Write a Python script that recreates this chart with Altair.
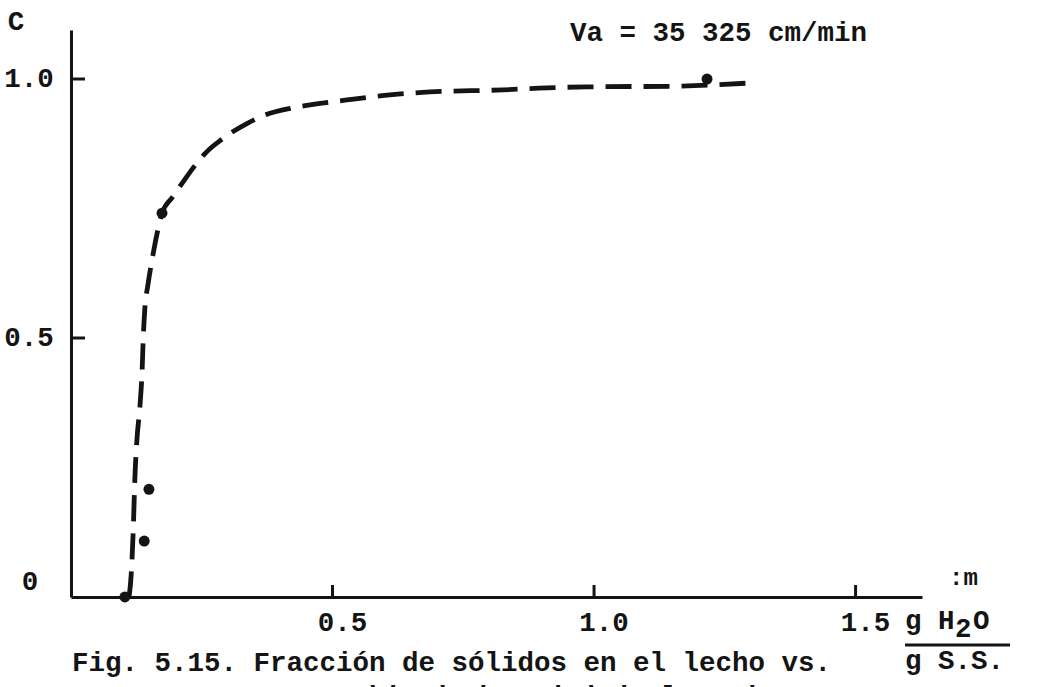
import altair as alt
import pandas as pd

# Dashed trend curve (moisture content vs. solids fraction)
curve_x = [0.111, 0.115, 0.119, 0.122, 0.126, 0.132, 0.136, 0.138, 0.141, 0.147,
           0.155, 0.164, 0.174, 0.194, 0.214, 0.237, 0.258, 0.289, 0.338, 0.367,
           0.423, 0.457, 0.524, 0.604, 0.686, 0.826, 0.910, 1.006, 1.149, 1.293]
curve_y = [0.0, 0.042, 0.129, 0.226, 0.303, 0.371, 0.438, 0.496, 0.554, 0.602,
           0.651, 0.699, 0.741, 0.772, 0.801, 0.833, 0.858, 0.884, 0.915, 0.929,
           0.944, 0.950, 0.959, 0.969, 0.975, 0.979, 0.983, 0.985, 0.986, 0.992]

# Measured points
point_x = [0.103, 0.140, 0.149, 0.174, 1.216]
point_y = [0.0, 0.108, 0.208, 0.741, 1.0]

# Axis ticks and labels
x_ticks = [0.5, 1.0, 1.5]
x_tick_labels = ["0.5", "1.0", "1.5"]
y_ticks = [0.5, 1.0]
y_tick_labels = ["0.5", "1.0"]

title_text = "Va = 35 325 cm/min"
caption_1 = "Fig. 5.15. Fracción de sólidos en el lecho vs."
caption_2 = "contenido de humedad de los mismos."

INK = "#141414"
FONT = "Liberation Mono"
FS = 27.5

x_scale = alt.Scale(domain=[0, 1.627], nice=False, zero=False)
y_scale = alt.Scale(domain=[0, 1.0946], nice=False, zero=False)
x_axis = alt.Axis(labels=False, ticks=False, grid=False, title="",
                  domainWidth=3, domainColor=INK)
y_axis = alt.Axis(labels=False, ticks=False, grid=False, title="",
                  domainWidth=3, domainColor=INK)

curve_df = pd.DataFrame({"x": curve_x, "y": curve_y})
points_df = pd.DataFrame({"x": point_x, "y": point_y})
xt_df = pd.DataFrame({"x": x_ticks, "t": x_tick_labels})
yt_df = pd.DataFrame({"y": y_ticks, "t": y_tick_labels})
zero_df = pd.DataFrame({"y": [0.0], "t": ["0"]})

curve = alt.Chart(curve_df).mark_line(
    color=INK, strokeWidth=4.8, strokeDash=[26, 12], interpolate="monotone",
    strokeCap="butt"
).encode(
    x=alt.X("x:Q", scale=x_scale, axis=x_axis),
    y=alt.Y("y:Q", scale=y_scale, axis=y_axis),
    order="x:Q",
)

points = alt.Chart(points_df).mark_circle(color=INK, opacity=1, size=120).encode(
    x=alt.X("x:Q", scale=x_scale),
    y=alt.Y("y:Q", scale=y_scale),
)

x_tick_marks = alt.Chart(xt_df).mark_rule(color=INK, strokeWidth=3).encode(
    x=alt.X("x:Q", scale=x_scale),
    y=alt.value(567),
    y2=alt.value(555),
)

y_tick_marks = alt.Chart(yt_df).mark_rule(color=INK, strokeWidth=3).encode(
    y=alt.Y("y:Q", scale=y_scale),
    x=alt.value(0),
    x2=alt.value(14),
)

text_style = dict(font=FONT, fontSize=FS, fontWeight="bold", color=INK)

x_labels = alt.Chart(xt_df).mark_text(
    align="center", baseline="middle", dx=10, **text_style
).encode(x=alt.X("x:Q", scale=x_scale), y=alt.value(593), text="t:N")

y_labels = alt.Chart(yt_df).mark_text(
    align="center", baseline="middle", **text_style
).encode(y=alt.Y("y:Q", scale=y_scale), x=alt.value(-42), text="t:N")

zero_label = alt.Chart(zero_df).mark_text(
    align="center", baseline="middle", dy=-15, **text_style
).encode(y=alt.Y("y:Q", scale=y_scale), x=alt.value(-41), text="t:N")


def label(txt, x, y, align="left", size=FS, dy=0):
    return alt.Chart(pd.DataFrame({"t": [txt]})).mark_text(
        align=align, baseline="middle", font=FONT, fontSize=size,
        fontWeight="bold", color=INK, dy=dy
    ).encode(x=alt.value(x), y=alt.value(y), text="t:N")


c_label = label("C", -55, -8, align="center")
title = label(title_text, 499, 3)
xm_label = label(":m", 878, 548, size=24)
num_g = label("g H", 834, 591)
num_2 = label("2", 884, 591, dy=8)
num_o = label("O", 902, 591)
den = label("g S.S.", 834, 631)
cap1 = label(caption_1, 1, 633)
cap2 = label(caption_2, 194, 667)

frac_bar = alt.Chart(pd.DataFrame({"t": [0]})).mark_rule(
    color=INK, strokeWidth=3
).encode(x=alt.value(834), x2=alt.value(939), y=alt.value(615))

chart = alt.layer(
    curve, points, x_tick_marks, y_tick_marks, x_labels, y_labels, zero_label,
    c_label, title, xm_label, num_g, num_2, num_o, frac_bar, den, cap1, cap2,
).properties(
    width=851,
    height=567,
    autosize=alt.AutoSizeParams(type="none"),
    padding={"left": 71, "top": 30, "right": 130, "bottom": 90},
    background="white",
).configure_view(stroke=None)

chart.save("out.html", embed_options={"renderer": "svg", "actions": False})
